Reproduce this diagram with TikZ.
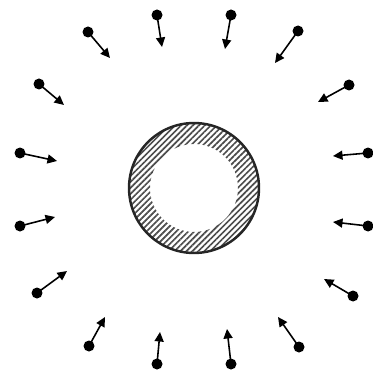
\documentclass[tikz,border=0pt]{standalone}
\usetikzlibrary{arrows.meta,patterns.meta}

\tikzset{
    particle/.style={circle, fill=black, inner sep=0pt, minimum size=0.22cm},
    drift/.style={-{Triangle[length=0.19cm,width=0.18cm]}, line width=0.9pt, shorten <=-1pt},
}

\begin{document}
\begin{tikzpicture}[x=0.02cm, y=-0.02cm]
    \useasboundingbox (0,0) rectangle (372,378);

    % Absorbing sphere
    \coordinate (sink) at (194,188);
    \fill[pattern={Lines[angle=45,distance=2.4pt,line width=0.95pt]}, pattern color=black!70,
        even odd rule] (sink) circle (1.3cm) (sink) circle (0.88cm);
    \draw[line width=1.4pt, black!85] (sink) circle (1.3cm);

    % Particles drifting inwards
    \foreach \i/\px/\py/\tx/\ty in {
        1/88/32/110/58, 2/157/15/162/47, 3/39/84/64/105, 4/20/153/57/161,
        5/231/15/225/49, 6/298/31/275/63, 7/349/85/318/102, 8/368/153/333/156,
        9/20/226/55/217, 10/37/293/67/271, 11/89/346/105/317, 12/157/364/160/332,
        13/368/226/333/222, 14/353/296/324/279, 15/299/347/278/317, 16/231/364/227/329}
    {
        \node[particle] (p\i) at (\px,\py) {};
        \coordinate (t\i) at (\tx,\ty);
        \draw[drift] (p\i) -- (t\i);
    }

\end{tikzpicture}
\end{document}
